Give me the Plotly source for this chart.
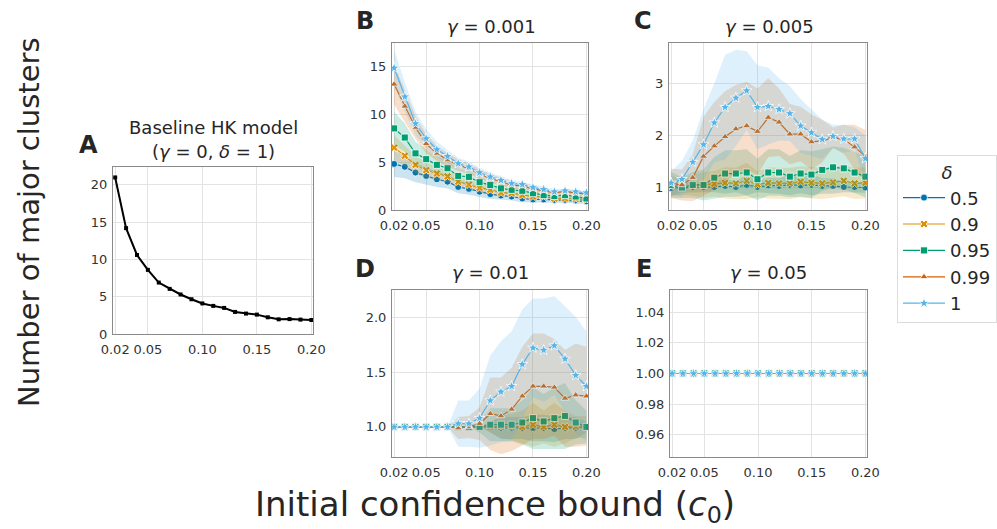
import plotly.graph_objects as go

W, H = 997, 529

c0 = [0.02, 0.03, 0.04, 0.05, 0.06, 0.07, 0.08, 0.09, 0.10, 0.11,
      0.12, 0.13, 0.14, 0.15, 0.16, 0.17, 0.18, 0.19, 0.20]
deltas = ["0.5", "0.9", "0.95", "0.99", "1"]
x_ticks = [0.02, 0.05, 0.10, 0.15, 0.20]
x_ticklabels = ["0.02", "0.05", "0.10", "0.15", "0.20"]

# Panel A: baseline HK model
base_mean = [21.0, 14.2, 10.6, 8.6, 6.9, 6.05, 5.3, 4.66, 4.1, 3.77,
             3.5, 2.96, 2.74, 2.6, 2.24, 1.97, 2.0, 1.93, 1.88]
base_sd = [0.3, 0.25, 0.2, 0.2, 0.15, 0.15, 0.12, 0.12, 0.1, 0.1,
           0.1, 0.1, 0.1, 0.08, 0.08, 0.08, 0.08, 0.08, 0.08]

# Panel B: gamma = 0.001
B_mean = {
    "0.5":  [4.8, 4.5, 3.9, 3.55, 3.2, 2.95, 2.4, 2.2, 1.9, 1.65, 1.5, 1.4, 1.2, 1.1, 1.1, 1.05, 1.05, 1.0, 0.9],
    "0.9":  [6.5, 5.65, 4.7, 4.15, 3.8, 3.5, 2.95, 2.65, 2.3, 2.1, 1.8, 1.75, 1.55, 1.4, 1.4, 1.2, 1.2, 1.15, 1.1],
    "0.95": [8.5, 7.55, 5.9, 5.3, 4.7, 4.35, 3.55, 3.45, 2.9, 2.6, 2.25, 2.1, 2.0, 1.75, 1.55, 1.45, 1.55, 1.4, 1.2],
    "0.99": [13.1, 10.8, 8.6, 6.9, 5.9, 5.2, 4.7, 4.3, 3.75, 3.3, 2.95, 2.6, 2.5, 2.2, 2.0, 1.8, 1.9, 1.75, 1.65],
    "1":    [14.8, 11.8, 9.0, 7.45, 6.3, 5.6, 4.85, 4.5, 3.9, 3.46, 3.1, 2.77, 2.67, 2.35, 2.15, 1.9, 2.0, 1.9, 1.8],
}
B_sd = {
    "0.5":  [1.35, 1.2, 1.0, 0.9, 0.8, 0.7, 0.65, 0.6, 0.55, 0.5, 0.45, 0.4, 0.4, 0.35, 0.35, 0.3, 0.3, 0.3, 0.3],
    "0.9":  [1.3, 1.1, 0.9, 0.8, 0.7, 0.6, 0.55, 0.5, 0.5, 0.45, 0.4, 0.4, 0.35, 0.35, 0.3, 0.3, 0.3, 0.3, 0.3],
    "0.95": [1.7, 1.5, 1.2, 1.0, 0.9, 0.8, 0.7, 0.6, 0.55, 0.5, 0.45, 0.4, 0.4, 0.35, 0.35, 0.3, 0.3, 0.3, 0.3],
    "0.99": [2.1, 1.6, 1.2, 1.0, 0.8, 0.7, 0.6, 0.55, 0.5, 0.45, 0.4, 0.4, 0.35, 0.35, 0.3, 0.3, 0.3, 0.3, 0.3],
    "1":    [1.9, 1.5, 1.2, 1.0, 0.8, 0.7, 0.6, 0.55, 0.5, 0.45, 0.4, 0.35, 0.3, 0.3, 0.3, 0.25, 0.25, 0.25, 0.25],
}

# Panel C: gamma = 0.005
C_mean = {
    "0.5":  [0.98, 0.99, 1.0, 1.0, 1.0, 1.02, 1.0, 1.04, 1.0, 1.03, 1.02, 1.04, 1.03, 1.04, 1.02, 1.02, 1.0, 1.0, 0.99],
    "0.9":  [1.02, 1.0, 1.03, 1.04, 1.06, 1.08, 1.07, 1.12, 1.05, 1.08, 1.07, 1.07, 1.1, 1.08, 1.07, 1.09, 1.12, 1.07, 1.08],
    "0.95": [1.04, 0.99, 1.04, 1.04, 1.18, 1.26, 1.26, 1.28, 1.15, 1.28, 1.28, 1.2, 1.26, 1.24, 1.33, 1.38, 1.36, 1.28, 1.2],
    "0.99": [1.07, 1.04, 1.18, 1.59, 1.79, 1.97, 2.12, 2.18, 2.07, 2.34, 2.25, 2.02, 2.02, 1.87, 1.89, 1.95, 1.92, 1.77, 1.6],
    "1":    [1.08, 1.15, 1.48, 1.82, 2.24, 2.54, 2.72, 2.86, 2.54, 2.56, 2.5, 2.42, 2.18, 2.05, 1.92, 1.98, 1.93, 1.93, 1.55],
}
C_sd = {
    "0.5":  [0.15, 0.1, 0.1, 0.1, 0.1, 0.15, 0.1, 0.2, 0.1, 0.15, 0.15, 0.2, 0.15, 0.2, 0.15, 0.15, 0.1, 0.1, 0.1],
    "0.9":  [0.2, 0.15, 0.2, 0.25, 0.25, 0.3, 0.3, 0.35, 0.25, 0.3, 0.3, 0.3, 0.3, 0.3, 0.3, 0.3, 0.3, 0.3, 0.3],
    "0.95": [0.25, 0.2, 0.25, 0.3, 0.4, 0.45, 0.45, 0.45, 0.4, 0.45, 0.45, 0.4, 0.45, 0.45, 0.4, 0.4, 0.4, 0.4, 0.4],
    "0.99": [0.28, 0.3, 0.45, 0.76, 0.85, 0.88, 0.85, 0.85, 0.83, 0.76, 0.65, 0.58, 0.53, 0.53, 0.41, 0.2, 0.28, 0.43, 0.5],
    "1":    [0.22, 0.35, 0.42, 0.68, 0.76, 1.01, 0.93, 0.76, 0.81, 0.74, 0.6, 0.53, 0.52, 0.45, 0.38, 0.22, 0.27, 0.22, 0.45],
}

# Panel D: gamma = 0.01
D_mean = {
    "0.5":  [1.0, 1.0, 1.0, 1.0, 1.0, 1.0, 1.0, 1.0, 1.0, 1.0, 0.99, 0.99, 0.99, 0.99, 0.99, 0.98, 0.99, 0.99, 1.0],
    "0.9":  [1.0, 1.0, 1.0, 1.0, 1.0, 1.0, 1.0, 1.0, 1.0, 1.0, 1.0, 1.0, 1.0, 1.02, 1.0, 1.02, 1.0, 1.0, 1.0],
    "0.95": [1.0, 1.0, 1.0, 1.0, 1.0, 1.0, 1.0, 1.0, 1.0, 1.02, 1.02, 1.02, 1.04, 1.08, 1.05, 1.08, 1.1, 1.04, 1.0],
    "0.99": [1.0, 1.0, 1.0, 1.0, 1.0, 1.0, 0.99, 1.0, 1.03, 1.12, 1.1, 1.16, 1.28, 1.37, 1.37, 1.36, 1.26, 1.29, 1.28],
    "1":    [1.0, 1.0, 1.0, 1.0, 1.0, 1.0, 1.03, 1.03, 1.08, 1.24, 1.32, 1.37, 1.57, 1.72, 1.7, 1.74, 1.62, 1.47, 1.37],
}
D_sd = {
    "0.5":  [0, 0, 0, 0, 0, 0, 0, 0, 0, 0.05, 0.1, 0.1, 0.1, 0.12, 0.12, 0.12, 0.1, 0.1, 0.05],
    "0.9":  [0, 0, 0, 0, 0, 0, 0, 0, 0, 0.05, 0.1, 0.12, 0.15, 0.2, 0.15, 0.2, 0.15, 0.1, 0.1],
    "0.95": [0, 0, 0, 0, 0, 0, 0, 0, 0.05, 0.15, 0.15, 0.15, 0.2, 0.28, 0.25, 0.28, 0.3, 0.2, 0.15],
    "0.99": [0, 0, 0, 0, 0, 0, 0.1, 0.1, 0.15, 0.33, 0.35, 0.38, 0.45, 0.48, 0.48, 0.44, 0.44, 0.47, 0.45],
    "1":    [0, 0, 0, 0, 0, 0, 0.21, 0.21, 0.27, 0.41, 0.46, 0.5, 0.5, 0.45, 0.47, 0.45, 0.48, 0.53, 0.5],
}

# Panel E: gamma = 0.05 (constant)
E_mean = {
    "0.5":  [1.0] * 19,
    "0.9":  [1.0] * 19,
    "0.95": [1.0] * 19,
    "0.99": [1.0] * 19,
    "1":    [1.0] * 19,
}

colors = {"0.5": (1, 115, 178), "0.9": (222, 143, 5), "0.95": (2, 158, 115),
          "0.99": (213, 94, 0), "1": (86, 180, 233)}
symbols = {"0.5": "circle", "0.9": "x", "0.95": "square", "0.99": "triangle-up", "1": "star"}
msizes = {"0.5": 7, "0.9": 7, "0.95": 7, "0.99": 7, "1": 8}

FONT = "DejaVu Sans"
TXT = "#262626"


def px2x(p):
    return p / W


def px2y(p):
    return 1 - p / H


panels = {
    # name: (x0, x1, ytop, ybot, yrange, yticks, yticklabels)
    "A": (113, 313, 167, 334, [0, 22.4], [0, 5, 10, 15, 20], ["0", "5", "10", "15", "20"]),
    "B": (392, 588, 43, 210, [0, 17.4], [0, 5, 10, 15], ["0", "5", "10", "15"]),
    "C": (669, 867, 43, 210, [0.556, 3.78], [1, 2, 3], ["1", "2", "3"]),
    "D": (392, 588, 290, 457, [0.726, 2.247], [1.0, 1.5, 2.0], ["1.0", "1.5", "2.0"]),
    "E": (670, 867, 290, 457, [0.9455, 1.0545], [0.96, 0.98, 1.0, 1.02, 1.04],
          ["0.96", "0.98", "1.00", "1.02", "1.04"]),
}
axis_ids = {"A": "", "B": "2", "C": "3", "D": "4", "E": "5"}

fig = go.Figure()
layout = {}
for name, (x0, x1, yt, yb, yr, yticks, ylabels) in panels.items():
    k = axis_ids[name]
    layout["xaxis" + k] = dict(
        domain=[px2x(x0), px2x(x1)], range=[0.018, 0.2015], anchor="y" + k,
        tickvals=x_ticks, ticktext=x_ticklabels, showgrid=True, gridcolor="#e3e3e3",
        gridwidth=1, zeroline=False, showline=True, linecolor="#8a8a8a", linewidth=1,
        mirror=True, ticks="", automargin=False, ticklabelstandoff=3,
        tickfont=dict(family=FONT, size=13, color="#333333"),
    )
    layout["yaxis" + k] = dict(
        domain=[px2y(yb), px2y(yt)], range=yr, anchor="x" + k,
        tickvals=yticks, ticktext=ylabels, showgrid=True, gridcolor="#e3e3e3",
        gridwidth=1, zeroline=False, showline=True, linecolor="#8a8a8a", linewidth=1,
        mirror=True, ticks="", automargin=False, ticklabelstandoff=2,
        tickfont=dict(family=FONT, size=13, color="#333333"),
    )


def band(xs, mean, sd, rgb, xa, ya):
    up = [m + s for m, s in zip(mean, sd)]
    lo = [m - s for m, s in zip(mean, sd)]
    fig.add_trace(go.Scatter(
        x=list(xs) + list(xs)[::-1], y=up + lo[::-1], fill="toself",
        fillcolor="rgba(%d,%d,%d,0.2)" % rgb, line=dict(width=0),
        mode="lines", hoverinfo="skip", showlegend=False, xaxis=xa, yaxis=ya,
    ))


# Panel A
band(c0, base_mean, base_sd, (0, 0, 0), "x", "y")
fig.add_trace(go.Scatter(
    x=c0, y=base_mean, mode="lines+markers", line=dict(color="black", width=2),
    marker=dict(symbol="square", size=4, color="black"), showlegend=False,
    xaxis="x", yaxis="y",
))

for name, means, sds in [("B", B_mean, B_sd), ("C", C_mean, C_sd), ("D", D_mean, D_sd),
                         ("E", E_mean, None)]:
    k = axis_ids[name]
    for d in deltas:
        rgb = colors[d]
        if sds is not None:
            band(c0, means[d], sds[d], rgb, "x" + k, "y" + k)
        fig.add_trace(go.Scatter(
            x=c0, y=means[d], mode="lines+markers", name=d,
            line=dict(color="rgb(%d,%d,%d)" % rgb, width=1.2),
            marker=dict(symbol=symbols[d], size=msizes[d], color="rgb(%d,%d,%d)" % rgb,
                        line=dict(color="white", width=0.8)),
            showlegend=(name == "B"), legendgroup=d, xaxis="x" + k, yaxis="y" + k,
        ))

annotations = []


def text(x, y, s, size, bold=False, angle=0, color=TXT):
    annotations.append(dict(
        x=px2x(x), y=px2y(y), xref="paper", yref="paper", text=("<b>%s</b>" % s) if bold else s,
        showarrow=False, font=dict(family=FONT, size=size, color=color),
        xanchor="center", yanchor="middle", textangle=angle,
    ))


# panel letters
text(88, 145, "A", 24, bold=True)
text(365, 21, "B", 24, bold=True)
text(643, 21, "C", 24, bold=True)
text(365, 269, "D", 24, bold=True)
text(644, 269, "E", 24, bold=True)
# titles
text(213, 128, "Baseline HK model", 18)
text(213, 151, "(<i>γ</i> = 0, <i>δ</i> = 1)", 18)
text(491, 26, "<i>γ</i> = 0.001", 18)
text(769, 26, "<i>γ</i> = 0.005", 18)
text(490, 272, "<i>γ</i> = 0.01", 18)
text(768, 272, "<i>γ</i> = 0.05", 18)
# axis labels
text(29, 222, "Number of major clusters", 29, angle=-90)
text(495, 506, "Initial confidence bound (<i>c</i><sub>0</sub>)", 34)

layout.update(dict(
    width=W, height=H, margin=dict(l=0, r=0, t=0, b=0, pad=0, autoexpand=False),
    plot_bgcolor="white", paper_bgcolor="white", font=dict(family=FONT, color=TXT),
    annotations=annotations,
    legend=dict(
        x=px2x(897), y=px2y(155), xanchor="left", yanchor="top",
        bgcolor="white", bordercolor="#dcdcdc", borderwidth=1,
        font=dict(family=FONT, size=18, color=TXT), itemwidth=42,
        title=dict(text="<i>δ</i>", side="top center", font=dict(family=FONT, size=18, color=TXT)),
        tracegroupgap=0,
    ),
))
fig.update_layout(**layout)
fig.write_html("out.html", config={"displayModeBar": False},
               post_script="document.body.style.margin='0';document.body.style.overflow='hidden';")
